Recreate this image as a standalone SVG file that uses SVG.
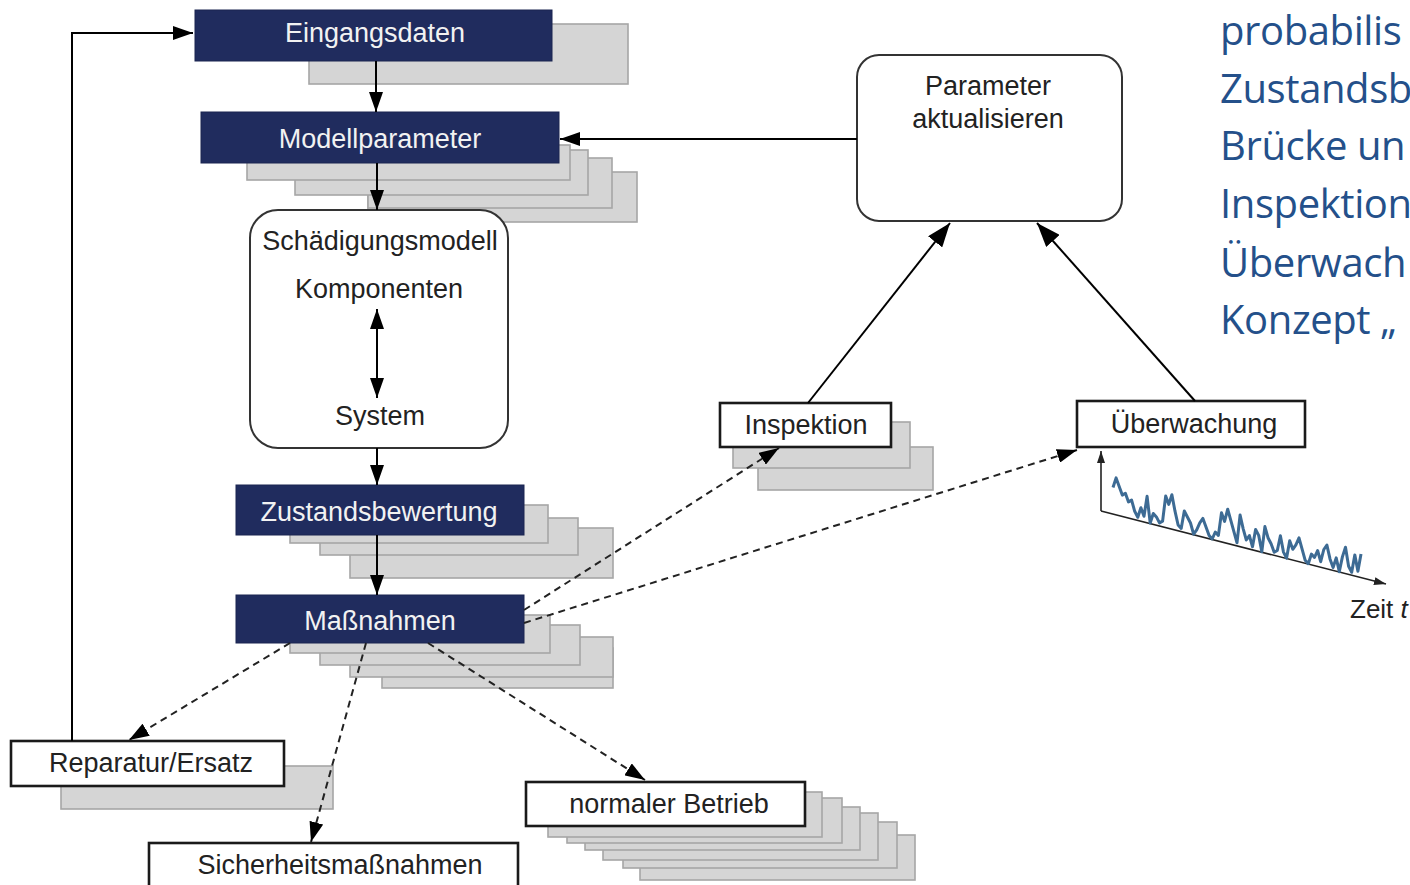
<svg xmlns="http://www.w3.org/2000/svg" width="1410" height="885" viewBox="0 0 1410 885">
<defs>
<style>
.nv{fill:#202c5e;stroke:#1a2550;stroke-width:1}
.sh{fill:#d5d5d5;stroke:#a6a6a6;stroke-width:1.6}
.wb{fill:#fff;stroke:#1a1a1a;stroke-width:2.6}
.rb{fill:#fff;stroke:#333;stroke-width:2}
.tw{font-family:"Liberation Sans",Arial,sans-serif;font-size:27px;fill:#f2f2f2;text-anchor:middle}
.tk{font-family:"Liberation Sans",Arial,sans-serif;font-size:27px;fill:#222;text-anchor:middle}
.ln{fill:none;stroke:#000;stroke-width:2}
.dl{fill:none;stroke:#222;stroke-width:2;stroke-dasharray:7,5}
.bt{font-family:"Open Sans","Noto Sans",sans-serif;font-size:40px;letter-spacing:-0.4px;fill:#24508a}
</style>
<marker id="ah" viewBox="0 0 20 14" refX="20" refY="7" markerWidth="20" markerHeight="14" markerUnits="userSpaceOnUse" orient="auto-start-reverse"><path d="M0,0 L20,7 L0,14 z" fill="#000"/></marker>
<marker id="ahb" viewBox="0 0 24 18" refX="24" refY="9" markerWidth="24" markerHeight="18" markerUnits="userSpaceOnUse" orient="auto"><path d="M0,0 L24,9 L0,18 z" fill="#000"/></marker>
<marker id="ax" viewBox="0 0 12 8" refX="12" refY="4" markerWidth="12" markerHeight="8" markerUnits="userSpaceOnUse" orient="auto"><path d="M0,0 L12,4 L0,8 z" fill="#222"/></marker>
</defs>
<rect width="1410" height="885" fill="#fff"/>

<g id="eingangsdaten">
<rect class="sh" x="309" y="24" width="319" height="60"/>
<rect class="nv" x="195" y="10" width="357" height="51"/>
<text class="tw" x="375" y="42">Eingangsdaten</text>
</g>

<g id="modellparameter">
<rect class="sh" x="368" y="172" width="269" height="50"/>
<rect class="sh" x="368" y="158" width="244" height="50"/>
<rect class="sh" x="295" y="150" width="293" height="45"/>
<rect class="sh" x="247" y="145" width="323" height="35"/>
<rect class="nv" x="201" y="112" width="358" height="51"/>
<text class="tw" x="380" y="148">Modellparameter</text>
</g>

<g id="schaedigungsmodell">
<rect class="rb" x="250" y="210" width="258" height="238" rx="28"/>
<text class="tk" x="380" y="250">Schädigungsmodell</text>
<text class="tk" x="379" y="298">Komponenten</text>
<text class="tk" x="380" y="425">System</text>
</g>

<g id="zustandsbewertung">
<rect class="sh" x="350" y="528" width="263" height="50"/>
<rect class="sh" x="320" y="518" width="258" height="37"/>
<rect class="sh" x="290" y="505" width="258" height="38"/>
<rect class="nv" x="236" y="485" width="288" height="50"/>
<text class="tw" x="379" y="521">Zustandsbewertung</text>
</g>

<g id="massnahmen">
<rect class="sh" x="382" y="648" width="231" height="40"/>
<rect class="sh" x="350" y="637" width="263" height="40"/>
<rect class="sh" x="320" y="625" width="260" height="40"/>
<rect class="sh" x="290" y="615" width="260" height="38"/>
<rect class="nv" x="236" y="595" width="288" height="48"/>
<text class="tw" x="380" y="630">Maßnahmen</text>
</g>

<g id="reparatur">
<rect class="sh" x="61" y="766" width="272" height="43"/>
<rect class="wb" x="11" y="741" width="273" height="45"/>
<text class="tk" x="151" y="772">Reparatur/Ersatz</text>
</g>

<g id="sicherheitsmassnahmen">
<rect class="wb" x="149" y="843" width="369" height="50"/>
<text class="tk" x="340" y="874">Sicherheitsmaßnahmen</text>
</g>

<g id="normaler-betrieb">
<rect class="sh" x="640" y="835" width="275" height="45"/>
<rect class="sh" x="623" y="822" width="274" height="46"/>
<rect class="sh" x="603" y="813" width="275" height="47"/>
<rect class="sh" x="585" y="807" width="275" height="43"/>
<rect class="sh" x="567" y="798" width="275" height="45"/>
<rect class="sh" x="548" y="792" width="274" height="45"/>
<rect class="wb" x="526" y="782" width="279" height="44"/>
<text class="tk" x="669" y="813">normaler Betrieb</text>
</g>

<g id="inspektion">
<rect class="sh" x="758" y="447" width="175" height="43"/>
<rect class="sh" x="733" y="422" width="177" height="46"/>
<rect class="wb" x="720" y="403" width="171" height="44"/>
<text class="tk" x="806" y="434">Inspektion</text>
</g>

<g id="ueberwachung">
<rect class="wb" x="1077" y="401" width="228" height="46"/>
<text class="tk" x="1194" y="433">Überwachung</text>
</g>

<g id="parameter-aktualisieren">
<rect class="rb" x="857" y="55" width="265" height="166" rx="22"/>
<text class="tk" x="988" y="95">Parameter</text>
<text class="tk" x="988" y="128">aktualisieren</text>
</g>

<g id="chart">
<line x1="1101" y1="511" x2="1101" y2="451" stroke="#222" stroke-width="1.6" marker-end="url(#ax)"/>
<line x1="1101" y1="511" x2="1386" y2="584" stroke="#222" stroke-width="1.6" marker-end="url(#ax)"/>
<polyline fill="none" stroke="#3d6b94" stroke-width="3" stroke-linejoin="round" points="1113,487.5 1116.1,477.9 1119.2,486.5 1122.3,495.1 1125.4,493.3 1128.5,501.9 1131.6,500.1 1134.7,511.3 1137.8,517.3 1140.9,507.7 1144,516.3 1147.1,496.3 1150.2,523.1 1153.3,513.5 1156.4,516.9 1159.5,522.9 1162.6,521.1 1165.7,495.9 1168.8,504.4 1171.9,494.8 1175,511.2 1178.1,525 1181.2,528.4 1184.3,511 1187.4,517 1190.5,523 1193.6,534.2 1196.7,529.8 1199.8,522.8 1202.9,518.4 1206,527 1209.1,535.6 1212.2,539 1215.3,532 1218.4,535.4 1221.5,512.8 1224.6,521.4 1227.7,509.2 1230.8,520.4 1233.9,531.6 1237,542.8 1240.1,515 1243.2,528.8 1246.3,540 1249.4,535.6 1252.5,546.8 1255.6,529.4 1258.7,535.4 1261.8,551.8 1264.9,526.6 1268,537.7 1271.1,543.7 1274.2,552.3 1277.3,550.5 1280.4,535.7 1283.5,552.1 1286.6,558.1 1289.7,540.7 1292.8,549.3 1295.9,544.9 1299,537.9 1302.1,549.1 1305.2,560.3 1308.3,563.7 1311.4,554.1 1314.5,557.5 1317.6,550.5 1320.7,561.7 1323.8,549.5 1326.9,545.1 1330,558.9 1333.1,567.5 1336.2,557.9 1339.3,571.7 1342.4,556.9 1345.5,547.3 1348.6,566.3 1351.7,572.3 1354.8,554.9 1357.9,571.3 1361,553.9"/>
<text font-family="Liberation Sans,Arial,sans-serif" font-size="26" fill="#222" x="1350" y="618">Zeit <tspan font-style="italic">t</tspan></text>
</g>

<g id="connectors">
<polyline class="ln" points="72,741 72,33 193,33" marker-end="url(#ah)"/>
<line class="ln" x1="376" y1="61" x2="376" y2="112" marker-end="url(#ah)"/>
<line class="ln" x1="377" y1="163" x2="377" y2="210" marker-end="url(#ah)"/>
<line class="ln" x1="377" y1="309" x2="377" y2="398" marker-start="url(#ah)" marker-end="url(#ah)"/>
<line class="ln" x1="377" y1="448" x2="377" y2="485" marker-end="url(#ah)"/>
<line class="ln" x1="377" y1="535" x2="377" y2="595" marker-end="url(#ah)"/>
<line class="ln" x1="857" y1="139" x2="560" y2="139" marker-end="url(#ah)"/>
<line class="ln" x1="808" y1="403" x2="950" y2="223" marker-end="url(#ahb)"/>
<line class="ln" x1="1195" y1="401" x2="1037" y2="223" marker-end="url(#ahb)"/>
<line class="dl" x1="524" y1="610" x2="779" y2="448" marker-end="url(#ah)"/>
<line class="dl" x1="524" y1="623" x2="1077" y2="450" marker-end="url(#ah)"/>
<line class="dl" x1="290" y1="643" x2="129" y2="740" marker-end="url(#ah)"/>
<line class="dl" x1="366" y1="643" x2="311" y2="842" marker-end="url(#ah)"/>
<line class="dl" x1="428" y1="643" x2="645" y2="780" marker-end="url(#ah)"/>
</g>

<g id="side-text">
<text class="bt" x="1220" y="45">probabilis</text>
<text class="bt" x="1220" y="103">Zustandsb</text>
<text class="bt" x="1220" y="160">Brücke un</text>
<text class="bt" x="1220" y="218">Inspektion</text>
<text class="bt" x="1220" y="277">Überwach</text>
<text class="bt" x="1220" y="334">Konzept „</text>
</g>
</svg>
